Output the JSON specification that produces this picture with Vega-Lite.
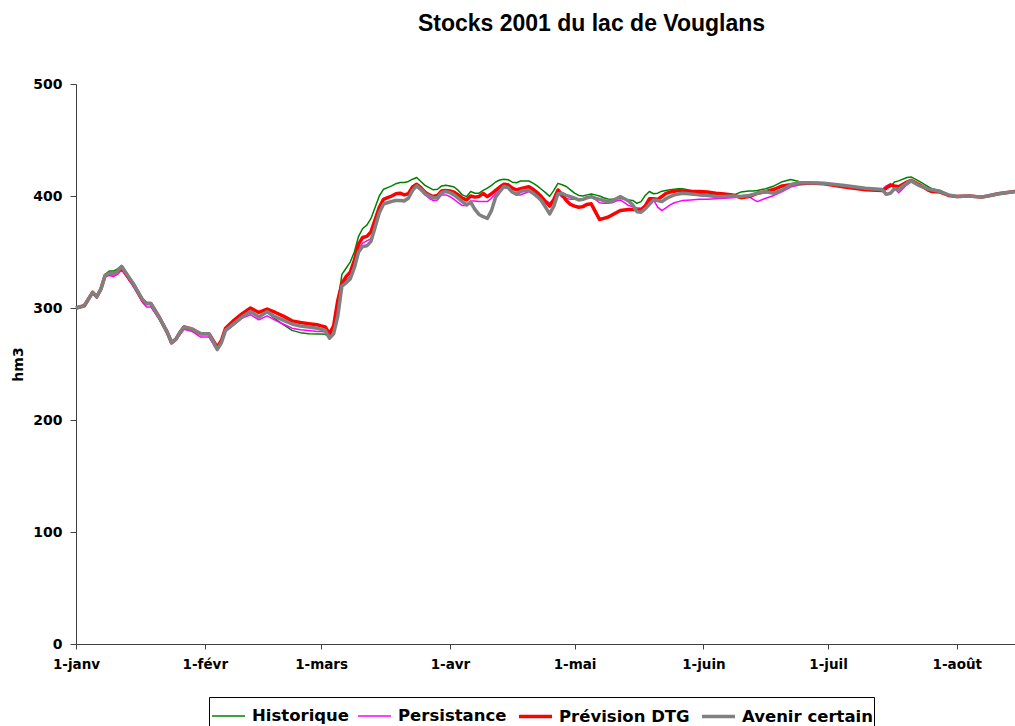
{
"$schema": "https://vega.github.io/schema/vega-lite/v6.json",
"width": 939, "height": 560,
"autosize": {"type": "none"},
"padding": {"left": 76, "top": 84, "right": 0, "bottom": 82},
"background": "white",
"config": {"view": {"stroke": null}},
"title": {"text": "Stocks 2001 du lac de Vouglans", "font": "Liberation Sans", "fontSize": 23, "fontWeight": "bold", "color": "black", "anchor": "middle", "frame": "group", "baseline": "alphabetic", "dx": 46, "offset": 23},
"data": {"values": [
{"d":"2001/01/01","Historique":300,"Persistance":300,"Prévision DTG":300,"Avenir certain":300},
{"d":"2001/01/03","Historique":302,"Persistance":302,"Prévision DTG":302,"Avenir certain":302},
{"d":"2001/01/05","Historique":314,"Persistance":313,"Prévision DTG":314,"Avenir certain":314},
{"d":"2001/01/06","Historique":310,"Persistance":309,"Prévision DTG":310,"Avenir certain":310},
{"d":"2001/01/07","Historique":317,"Persistance":316,"Prévision DTG":317,"Avenir certain":317},
{"d":"2001/01/08","Historique":330,"Persistance":328,"Prévision DTG":329,"Avenir certain":329},
{"d":"2001/01/09","Historique":333,"Persistance":329,"Prévision DTG":331,"Avenir certain":331},
{"d":"2001/01/10","Historique":333,"Persistance":328,"Prévision DTG":330,"Avenir certain":330},
{"d":"2001/01/11","Historique":335,"Persistance":330,"Prévision DTG":333,"Avenir certain":333},
{"d":"2001/01/12","Historique":338,"Persistance":334,"Prévision DTG":336,"Avenir certain":337},
{"d":"2001/01/15","Historique":321,"Persistance":318,"Prévision DTG":320,"Avenir certain":320.5},
{"d":"2001/01/17","Historique":308,"Persistance":305,"Prévision DTG":307,"Avenir certain":307.5},
{"d":"2001/01/18","Historique":304,"Persistance":301,"Prévision DTG":304,"Avenir certain":304},
{"d":"2001/01/19","Historique":304,"Persistance":301,"Prévision DTG":304,"Avenir certain":304},
{"d":"2001/01/21","Historique":292,"Persistance":290,"Prévision DTG":292,"Avenir certain":292},
{"d":"2001/01/23","Historique":278,"Persistance":277,"Prévision DTG":278,"Avenir certain":278},
{"d":"2001/01/24","Historique":269,"Persistance":268,"Prévision DTG":269,"Avenir certain":269},
{"d":"2001/01/25","Historique":272,"Persistance":271,"Prévision DTG":272,"Avenir certain":272},
{"d":"2001/01/26","Historique":278,"Persistance":276,"Prévision DTG":278,"Avenir certain":278},
{"d":"2001/01/27","Historique":283,"Persistance":281,"Prévision DTG":283,"Avenir certain":283},
{"d":"2001/01/29","Historique":281,"Persistance":279,"Prévision DTG":281,"Avenir certain":281},
{"d":"2001/01/31","Historique":277,"Persistance":274,"Prévision DTG":277,"Avenir certain":277},
{"d":"2001/02/02","Historique":277,"Persistance":274,"Prévision DTG":277,"Avenir certain":277},
{"d":"2001/02/04","Historique":263,"Persistance":262,"Prévision DTG":265,"Avenir certain":263},
{"d":"2001/02/05","Historique":269,"Persistance":268,"Prévision DTG":271,"Avenir certain":269},
{"d":"2001/02/06","Historique":280,"Persistance":279,"Prévision DTG":282,"Avenir certain":280},
{"d":"2001/02/08","Historique":286,"Persistance":285,"Prévision DTG":289,"Avenir certain":286},
{"d":"2001/02/10","Historique":292,"Persistance":291,"Prévision DTG":295,"Avenir certain":292},
{"d":"2001/02/12","Historique":297,"Persistance":294,"Prévision DTG":300,"Avenir certain":297},
{"d":"2001/02/14","Historique":292,"Persistance":289.5,"Prévision DTG":296,"Avenir certain":292},
{"d":"2001/02/16","Historique":296,"Persistance":293,"Prévision DTG":299,"Avenir certain":296.7},
{"d":"2001/02/18","Historique":290,"Persistance":289,"Prévision DTG":296,"Avenir certain":292},
{"d":"2001/02/20","Historique":285,"Persistance":285.5,"Prévision DTG":292.5,"Avenir certain":289},
{"d":"2001/02/22","Historique":280,"Persistance":282,"Prévision DTG":288.5,"Avenir certain":285.7},
{"d":"2001/02/24","Historique":278,"Persistance":280.5,"Prévision DTG":287,"Avenir certain":284},
{"d":"2001/02/26","Historique":277,"Persistance":280,"Prévision DTG":286,"Avenir certain":283},
{"d":"2001/02/28","Historique":276.8,"Persistance":279,"Prévision DTG":285,"Avenir certain":282},
{"d":"2001/03/01","Historique":276.8,"Persistance":279,"Prévision DTG":284,"Avenir certain":281},
{"d":"2001/03/02","Historique":276.5,"Persistance":278.5,"Prévision DTG":283,"Avenir certain":280},
{"d":"2001/03/03","Historique":274,"Persistance":275,"Prévision DTG":277,"Avenir certain":273},
{"d":"2001/03/04","Historique":285,"Persistance":282,"Prévision DTG":284,"Avenir certain":277},
{"d":"2001/03/05","Historique":304,"Persistance":300,"Prévision DTG":306.6,"Avenir certain":292.6},
{"d":"2001/03/06","Historique":330,"Persistance":322,"Prévision DTG":322,"Avenir certain":319.5},
{"d":"2001/03/07","Historique":335.5,"Persistance":325,"Prévision DTG":328,"Avenir certain":322.5},
{"d":"2001/03/08","Historique":341,"Persistance":328,"Prévision DTG":332,"Avenir certain":326},
{"d":"2001/03/09","Historique":350,"Persistance":340,"Prévision DTG":342.5,"Avenir certain":336},
{"d":"2001/03/10","Historique":364,"Persistance":353,"Prévision DTG":357,"Avenir certain":350},
{"d":"2001/03/11","Historique":371,"Persistance":358,"Prévision DTG":363,"Avenir certain":355},
{"d":"2001/03/12","Historique":374,"Persistance":360,"Prévision DTG":364,"Avenir certain":355.5},
{"d":"2001/03/13","Historique":380,"Persistance":362,"Prévision DTG":368,"Avenir certain":359.5},
{"d":"2001/03/14","Historique":390,"Persistance":374,"Prévision DTG":379,"Avenir certain":372},
{"d":"2001/03/15","Historique":400,"Persistance":386,"Prévision DTG":390,"Avenir certain":385},
{"d":"2001/03/16","Historique":406,"Persistance":392,"Prévision DTG":397,"Avenir certain":392.7},
{"d":"2001/03/17","Historique":407.5,"Persistance":394,"Prévision DTG":398.5,"Avenir certain":394},
{"d":"2001/03/18","Historique":409,"Persistance":395,"Prévision DTG":400,"Avenir certain":395.2},
{"d":"2001/03/19","Historique":411,"Persistance":396,"Prévision DTG":402,"Avenir certain":396},
{"d":"2001/03/20","Historique":412,"Persistance":396,"Prévision DTG":402.5,"Avenir certain":396},
{"d":"2001/03/21","Historique":412,"Persistance":396,"Prévision DTG":401,"Avenir certain":395.5},
{"d":"2001/03/22","Historique":413,"Persistance":398,"Prévision DTG":402,"Avenir certain":398},
{"d":"2001/03/23","Historique":415,"Persistance":405,"Prévision DTG":408,"Avenir certain":405},
{"d":"2001/03/24","Historique":416.5,"Persistance":408,"Prévision DTG":410.5,"Avenir certain":409},
{"d":"2001/03/25","Historique":413,"Persistance":405,"Prévision DTG":407.5,"Avenir certain":406},
{"d":"2001/03/26","Historique":409.5,"Persistance":401,"Prévision DTG":403.5,"Avenir certain":402},
{"d":"2001/03/27","Historique":407.5,"Persistance":398,"Prévision DTG":401,"Avenir certain":400},
{"d":"2001/03/28","Historique":405.5,"Persistance":396,"Prévision DTG":399.5,"Avenir certain":398.5},
{"d":"2001/03/29","Historique":406,"Persistance":396.5,"Prévision DTG":400.5,"Avenir certain":398.5},
{"d":"2001/03/30","Historique":409,"Persistance":401,"Prévision DTG":404.5,"Avenir certain":403},
{"d":"2001/03/31","Historique":409.5,"Persistance":401,"Prévision DTG":405,"Avenir certain":404},
{"d":"2001/04/01","Historique":409,"Persistance":399.5,"Prévision DTG":404.5,"Avenir certain":403},
{"d":"2001/04/02","Historique":408,"Persistance":397,"Prévision DTG":403.5,"Avenir certain":401},
{"d":"2001/04/03","Historique":405,"Persistance":394,"Prévision DTG":401,"Avenir certain":398},
{"d":"2001/04/04","Historique":401,"Persistance":391.5,"Prévision DTG":398,"Avenir certain":395},
{"d":"2001/04/05","Historique":399.4,"Persistance":391.5,"Prévision DTG":396.5,"Avenir certain":392},
{"d":"2001/04/06","Historique":404,"Persistance":395.5,"Prévision DTG":400,"Avenir certain":394.5},
{"d":"2001/04/07","Historique":402.5,"Persistance":395.5,"Prévision DTG":399,"Avenir certain":388},
{"d":"2001/04/08","Historique":402.5,"Persistance":395,"Prévision DTG":399.6,"Avenir certain":383.5},
{"d":"2001/04/09","Historique":405,"Persistance":395,"Prévision DTG":402.4,"Avenir certain":381.5},
{"d":"2001/04/10","Historique":407,"Persistance":395,"Prévision DTG":399.4,"Avenir certain":380},
{"d":"2001/04/11","Historique":409.5,"Persistance":398,"Prévision DTG":402,"Avenir certain":387},
{"d":"2001/04/12","Historique":412.5,"Persistance":402,"Prévision DTG":405,"Avenir certain":399},
{"d":"2001/04/13","Historique":414.3,"Persistance":405,"Prévision DTG":408,"Avenir certain":404},
{"d":"2001/04/14","Historique":415,"Persistance":407.5,"Prévision DTG":410.5,"Avenir certain":408.5},
{"d":"2001/04/15","Historique":414.5,"Persistance":407,"Prévision DTG":410,"Avenir certain":407.5},
{"d":"2001/04/16","Historique":412.3,"Persistance":403,"Prévision DTG":407,"Avenir certain":403.5},
{"d":"2001/04/17","Historique":411.8,"Persistance":401,"Prévision DTG":405.5,"Avenir certain":401.5},
{"d":"2001/04/18","Historique":413.4,"Persistance":401,"Prévision DTG":406.5,"Avenir certain":404},
{"d":"2001/04/19","Historique":413.4,"Persistance":402.5,"Prévision DTG":407.5,"Avenir certain":405},
{"d":"2001/04/20","Historique":413.4,"Persistance":404,"Prévision DTG":408.3,"Avenir certain":405},
{"d":"2001/04/21","Historique":411.5,"Persistance":402,"Prévision DTG":406,"Avenir certain":402.5},
{"d":"2001/04/22","Historique":409,"Persistance":400.5,"Prévision DTG":403,"Avenir certain":399.5},
{"d":"2001/04/23","Historique":406,"Persistance":398.5,"Prévision DTG":399.5,"Avenir certain":396},
{"d":"2001/04/24","Historique":403,"Persistance":396,"Prévision DTG":395,"Avenir certain":390},
{"d":"2001/04/25","Historique":399.7,"Persistance":393.8,"Prévision DTG":391,"Avenir certain":384},
{"d":"2001/04/26","Historique":405,"Persistance":397,"Prévision DTG":397,"Avenir certain":391},
{"d":"2001/04/27","Historique":411.3,"Persistance":402.4,"Prévision DTG":405.4,"Avenir certain":402},
{"d":"2001/04/28","Historique":410,"Persistance":399,"Prévision DTG":401,"Avenir certain":402.5},
{"d":"2001/04/29","Historique":408.5,"Persistance":398,"Prévision DTG":396,"Avenir certain":400.5},
{"d":"2001/04/30","Historique":405.5,"Persistance":397,"Prévision DTG":392.5,"Avenir certain":399.4},
{"d":"2001/05/01","Historique":402.5,"Persistance":397,"Prévision DTG":391,"Avenir certain":398},
{"d":"2001/05/02","Historique":400.5,"Persistance":397,"Prévision DTG":390,"Avenir certain":396.5},
{"d":"2001/05/03","Historique":400,"Persistance":397,"Prévision DTG":390.5,"Avenir certain":397},
{"d":"2001/05/04","Historique":401,"Persistance":398,"Prévision DTG":392.5,"Avenir certain":398.5},
{"d":"2001/05/05","Historique":401.8,"Persistance":398.8,"Prévision DTG":393,"Avenir certain":399.4},
{"d":"2001/05/06","Historique":401,"Persistance":397,"Prévision DTG":386,"Avenir certain":398},
{"d":"2001/05/07","Historique":400,"Persistance":394,"Prévision DTG":379,"Avenir certain":397},
{"d":"2001/05/08","Historique":398.5,"Persistance":393.5,"Prévision DTG":380,"Avenir certain":396},
{"d":"2001/05/09","Historique":397.3,"Persistance":393.5,"Prévision DTG":381,"Avenir certain":394.8},
{"d":"2001/05/10","Historique":397,"Persistance":394,"Prévision DTG":383,"Avenir certain":395.5},
{"d":"2001/05/11","Historique":397.5,"Persistance":395.5,"Prévision DTG":385,"Avenir certain":397.5},
{"d":"2001/05/12","Historique":398,"Persistance":396.5,"Prévision DTG":387,"Avenir certain":399.4},
{"d":"2001/05/13","Historique":397,"Persistance":394,"Prévision DTG":387.5,"Avenir certain":397.5},
{"d":"2001/05/14","Historique":396.5,"Persistance":391.5,"Prévision DTG":388,"Avenir certain":395.5},
{"d":"2001/05/15","Historique":396,"Persistance":390.5,"Prévision DTG":388,"Avenir certain":392},
{"d":"2001/05/16","Historique":393.5,"Persistance":389.5,"Prévision DTG":387.7,"Avenir certain":386},
{"d":"2001/05/17","Historique":395,"Persistance":389,"Prévision DTG":387.5,"Avenir certain":385.5},
{"d":"2001/05/18","Historique":400.5,"Persistance":392,"Prévision DTG":391,"Avenir certain":388.5},
{"d":"2001/05/19","Historique":404,"Persistance":396,"Prévision DTG":397.5,"Avenir certain":392.5},
{"d":"2001/05/20","Historique":402,"Persistance":396.5,"Prévision DTG":397.5,"Avenir certain":396.5},
{"d":"2001/05/21","Historique":402.5,"Persistance":390,"Prévision DTG":397,"Avenir certain":396},
{"d":"2001/05/22","Historique":404.3,"Persistance":387,"Prévision DTG":399.5,"Avenir certain":395},
{"d":"2001/05/23","Historique":405,"Persistance":389.5,"Prévision DTG":402.4,"Avenir certain":397.5},
{"d":"2001/05/24","Historique":405.5,"Persistance":392,"Prévision DTG":403.5,"Avenir certain":399.5},
{"d":"2001/05/25","Historique":406,"Persistance":394,"Prévision DTG":404.2,"Avenir certain":401},
{"d":"2001/05/26","Historique":406.5,"Persistance":395,"Prévision DTG":404.8,"Avenir certain":401.8},
{"d":"2001/05/27","Historique":406.5,"Persistance":396,"Prévision DTG":404.5,"Avenir certain":402.4},
{"d":"2001/05/29","Historique":405,"Persistance":396.5,"Prévision DTG":404,"Avenir certain":401.8},
{"d":"2001/05/31","Historique":402.4,"Persistance":397,"Prévision DTG":404,"Avenir certain":401},
{"d":"2001/06/02","Historique":401.5,"Persistance":397,"Prévision DTG":403.5,"Avenir certain":400.5},
{"d":"2001/06/04","Historique":400.5,"Persistance":397.5,"Prévision DTG":402.5,"Avenir certain":399.5},
{"d":"2001/06/06","Historique":399.5,"Persistance":398,"Prévision DTG":401.8,"Avenir certain":399.6},
{"d":"2001/06/08","Historique":400.5,"Persistance":398.5,"Prévision DTG":401,"Avenir certain":400},
{"d":"2001/06/10","Historique":403.5,"Persistance":399,"Prévision DTG":398.5,"Avenir certain":399.5},
{"d":"2001/06/12","Historique":404.5,"Persistance":399.4,"Prévision DTG":399.5,"Avenir certain":400.5},
{"d":"2001/06/13","Historique":404.5,"Persistance":397,"Prévision DTG":401,"Avenir certain":401.5},
{"d":"2001/06/14","Historique":405,"Persistance":395,"Prévision DTG":402.4,"Avenir certain":402.5},
{"d":"2001/06/16","Historique":406.5,"Persistance":398,"Prévision DTG":403.8,"Avenir certain":403.8},
{"d":"2001/06/18","Historique":409,"Persistance":400.5,"Prévision DTG":406,"Avenir certain":402.5},
{"d":"2001/06/20","Historique":412.8,"Persistance":404,"Prévision DTG":409,"Avenir certain":405.5},
{"d":"2001/06/22","Historique":414.8,"Persistance":408,"Prévision DTG":410,"Avenir certain":409.8},
{"d":"2001/06/24","Historique":413,"Persistance":409.8,"Prévision DTG":411.5,"Avenir certain":411.8},
{"d":"2001/06/26","Historique":412,"Persistance":410.5,"Prévision DTG":411.5,"Avenir certain":411.8},
{"d":"2001/06/30","Historique":411.3,"Persistance":411,"Prévision DTG":411,"Avenir certain":411.3},
{"d":"2001/07/05","Historique":409.3,"Persistance":409,"Prévision DTG":408,"Avenir certain":409.3},
{"d":"2001/07/10","Historique":407,"Persistance":407,"Prévision DTG":405.5,"Avenir certain":407},
{"d":"2001/07/14","Historique":405.8,"Persistance":405.5,"Prévision DTG":404.8,"Avenir certain":405.8},
{"d":"2001/07/15","Historique":407.5,"Persistance":409,"Prévision DTG":407,"Avenir certain":401.5},
{"d":"2001/07/16","Historique":408.3,"Persistance":410.7,"Prévision DTG":409.8,"Avenir certain":402.5},
{"d":"2001/07/17","Historique":412.5,"Persistance":407,"Prévision DTG":409,"Avenir certain":406.5},
{"d":"2001/07/18","Historique":413.5,"Persistance":403,"Prévision DTG":408.3,"Avenir certain":406},
{"d":"2001/07/20","Historique":416.5,"Persistance":410,"Prévision DTG":412.5,"Avenir certain":411.5},
{"d":"2001/07/21","Historique":417,"Persistance":412.8,"Prévision DTG":414,"Avenir certain":413.5},
{"d":"2001/07/23","Historique":413,"Persistance":409,"Prévision DTG":410,"Avenir certain":409.2},
{"d":"2001/07/25","Historique":408.5,"Persistance":405,"Prévision DTG":405.5,"Avenir certain":406.3},
{"d":"2001/07/26","Historique":406.5,"Persistance":404,"Prévision DTG":404,"Avenir certain":405.6},
{"d":"2001/07/28","Historique":405,"Persistance":403.5,"Prévision DTG":403.5,"Avenir certain":404},
{"d":"2001/07/30","Historique":401,"Persistance":400.5,"Prévision DTG":400.5,"Avenir certain":401},
{"d":"2001/08/01","Historique":399.5,"Persistance":399.5,"Prévision DTG":399.5,"Avenir certain":399.5},
{"d":"2001/08/04","Historique":400,"Persistance":400,"Prévision DTG":400,"Avenir certain":400},
{"d":"2001/08/07","Historique":399,"Persistance":399,"Prévision DTG":399,"Avenir certain":399},
{"d":"2001/08/09","Historique":400.5,"Persistance":400.5,"Prévision DTG":400.5,"Avenir certain":400.5},
{"d":"2001/08/11","Historique":402,"Persistance":402,"Prévision DTG":402,"Avenir certain":402},
{"d":"2001/08/15","Historique":404,"Persistance":404,"Prévision DTG":404,"Avenir certain":404}
]},
"transform": [{"fold": ["Historique", "Persistance", "Prévision DTG", "Avenir certain"], "as": ["serie", "v"]}],
"encoding": {
  "x": {"field": "d", "type": "temporal",
        "scale": {"domain": [{"year": 2001, "month": 1, "date": 1}, {"year": 2001, "month": 8, "date": 15}], "nice": false},
        "axis": {"title": null, "grid": false, "tickCount": {"interval": "month", "step": 1},
                 "labelExpr": "'1-' + ['janv','févr','mars','avr','mai','juin','juil','août','sept'][month(datum.value)]",
                 "labelFont": "DejaVu Sans", "labelFontSize": 13.5, "labelFontWeight": "bold", "labelColor": "black",
                 "labelFlush": false, "labelOverlap": false, "labelPadding": 8, "tickSize": 5,
                 "domainColor": "#404040", "tickColor": "#404040"}},
  "y": {"field": "v", "type": "quantitative",
        "scale": {"domain": [0, 500], "nice": false, "zero": true},
        "axis": {"title": "hm3", "titleFont": "DejaVu Sans", "titleFontSize": 14, "titleFontWeight": "bold", "titleColor": "black",
                 "titleAngle": -90, "titleX": -58, "titleY": 280, "titleAlign": "center", "titleBaseline": "middle",
                 "values": [0, 100, 200, 300, 400, 500], "grid": false,
                 "labelFont": "DejaVu Sans", "labelFontSize": 14, "labelFontWeight": "bold", "labelColor": "black",
                 "labelPadding": 8, "tickSize": 6, "domainColor": "#404040", "tickColor": "#404040"}},
  "color": {"field": "serie", "type": "nominal",
            "scale": {"domain": ["Historique", "Persistance", "Prévision DTG", "Avenir certain"], "range": ["#008000", "#FF00FF", "#FF0000", "#808080"]},
            "legend": {"title": null, "orient": "none", "legendX": 133, "legendY": 613, "direction": "horizontal", "columns": 4,
                       "symbolType": "stroke", "symbolSize": 1089, "labelFont": "DejaVu Sans", "labelFontSize": 16.5, "labelFontWeight": "bold",
                       "labelColor": "black", "labelOffset": 5, "columnPadding": 5, "padding": 1, "strokeColor": "black", "labelLimit": 300}},
  "strokeWidth": {"field": "serie", "type": "ordinal",
            "scale": {"type": "ordinal", "domain": ["Historique", "Persistance", "Prévision DTG", "Avenir certain"], "range": [1.5, 1.5, 3.5, 3.5]},
            "legend": {"title": null, "orient": "none", "legendX": 133, "legendY": 613, "direction": "horizontal", "columns": 4,
                       "symbolType": "stroke", "symbolSize": 1089, "labelFont": "DejaVu Sans", "labelFontSize": 16.5, "labelFontWeight": "bold",
                       "labelColor": "black", "labelOffset": 5, "columnPadding": 5, "padding": 1, "strokeColor": "black", "labelLimit": 300}}
},
"layer": [
  {"transform": [{"filter": "datum.serie === 'Historique'"}], "mark": {"type": "line", "strokeJoin": "round"}},
  {"transform": [{"filter": "datum.serie === 'Persistance'"}], "mark": {"type": "line", "strokeJoin": "round"}},
  {"transform": [{"filter": "datum.serie === 'Prévision DTG'"}], "mark": {"type": "line", "strokeJoin": "round"}},
  {"transform": [{"filter": "datum.serie === 'Avenir certain'"}], "mark": {"type": "line", "strokeJoin": "round"}}
]
}
